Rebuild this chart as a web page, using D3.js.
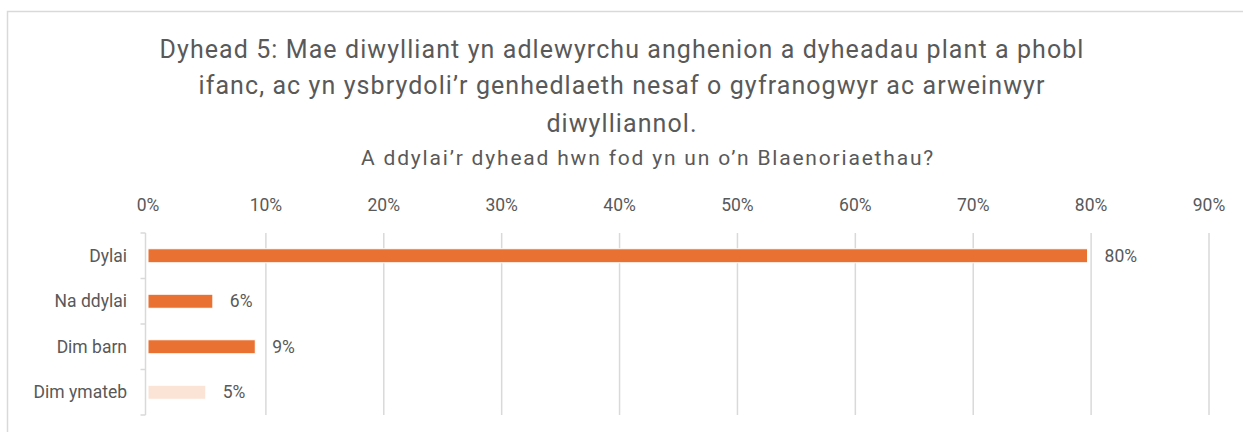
<!DOCTYPE html>
<html lang="en">
<head>
<meta charset="utf-8">
<script src="https://d3js.org/d3.v7.min.js"></script>
<style>
  body { margin: 0; background: #fff; }
  svg text { font-family: Roboto, sans-serif; fill: #595959; }
</style>
</head>
<body>
<script>
// data
const titleLines = [
  "Dyhead 5: Mae diwylliant yn adlewyrchu anghenion a dyheadau plant a phobl",
  "ifanc, ac yn ysbrydoli\u2019r genhedlaeth nesaf o gyfranogwyr ac arweinwyr",
  "diwylliannol."
];
const subtitle = "A ddylai\u2019r dyhead hwn fod yn un o\u2019n Blaenoriaethau?";
const categories = ["Dylai", "Na ddylai", "Dim barn", "Dim ymateb"];
const values = [79.7, 5.5, 9.1, 4.9];
const barColors = ["#E97132", "#E97132", "#E97132", "#FBE3D6"];
const tickValues = [0, 10, 20, 30, 40, 50, 60, 70, 80, 90];

const W = 1243, H = 432;
const svg = d3.select("body").append("svg").attr("width", W).attr("height", H);

// outer frame
svg.append("rect")
  .attr("x", 7.5).attr("y", 11.5)
  .attr("width", 1260).attr("height", 440)
  .attr("fill", "#fff").attr("stroke", "#D9D9D9").attr("stroke-width", 1.5);

// titles
const titleBase = [58, 94, 132];
const t = svg.selectAll(".title").data(titleLines).enter().append("text")
  .attr("x", 622).attr("y", (d, i) => titleBase[i])
  .attr("text-anchor", "middle")
  .style("font-size", "25px")
  .text(d => d);
// stretch first line to ~925px with a little spacing
const w0 = t.node().getComputedTextLength();
t.style("letter-spacing", ((925 - w0) / titleLines[0].length) + "px");

const sub = svg.append("text")
  .attr("x", 648).attr("y", 165)
  .attr("text-anchor", "middle")
  .style("font-size", "21px")
  .text(subtitle);
const ws = sub.node().getComputedTextLength();
sub.style("letter-spacing", ((574 - ws) / subtitle.length) + "px");

const x = d3.scaleLinear().domain([0, 90]).range([148, 1209]);
const y = d3.scaleBand().domain(categories).range([233, 415]);

// gridlines
svg.selectAll(".grid").data(tickValues.slice(1)).enter().append("line")
  .attr("x1", d => x(d)).attr("x2", d => x(d))
  .attr("y1", 233).attr("y2", 415)
  .attr("stroke", "#D9D9D9").attr("stroke-width", 1.5);

// top tick labels
svg.selectAll(".tick").data(tickValues).enter().append("text")
  .attr("x", d => x(d)).attr("y", 211)
  .attr("text-anchor", "middle")
  .style("font-size", "17.5px")
  .text(d => d + "%");

// category axis
const yAxis = svg.append("g")
  .attr("transform", "translate(145.5,0)");
yAxis.append("line")
  .attr("x1", 0).attr("x2", 0).attr("y1", 233).attr("y2", 415)
  .attr("stroke", "#D9D9D9").attr("stroke-width", 1.5);
yAxis.selectAll(".yt").data(d3.range(categories.length + 1)).enter().append("line")
  .attr("x1", -5).attr("x2", 0)
  .attr("y1", i => 233 + i * y.step()).attr("y2", i => 233 + i * y.step())
  .attr("stroke", "#D9D9D9").attr("stroke-width", 1.5);

svg.selectAll(".cat").data(categories).enter().append("text")
  .attr("x", 127)
  .attr("y", d => y(d) + y.bandwidth() / 2)
  .attr("dy", "0.35em")
  .attr("text-anchor", "end")
  .style("font-size", "17.5px")
  .text(d => d);

// bars
const barH = 14;
svg.selectAll(".bar").data(values).enter().append("rect")
  .attr("x", x(0))
  .attr("y", (d, i) => y(categories[i]) + y.bandwidth() / 2 - barH / 2)
  .attr("width", d => x(d) - x(0))
  .attr("height", barH)
  .attr("fill", (d, i) => barColors[i])
  .attr("stroke", "#fff").attr("stroke-width", 1);

svg.selectAll(".val").data(values).enter().append("text")
  .attr("x", d => x(d) + 17)
  .attr("y", (d, i) => y(categories[i]) + y.bandwidth() / 2)
  .attr("dy", "0.35em")
  .style("font-size", "17.5px")
  .text(d => Math.round(d) + "%");
</script>
</body>
</html>
